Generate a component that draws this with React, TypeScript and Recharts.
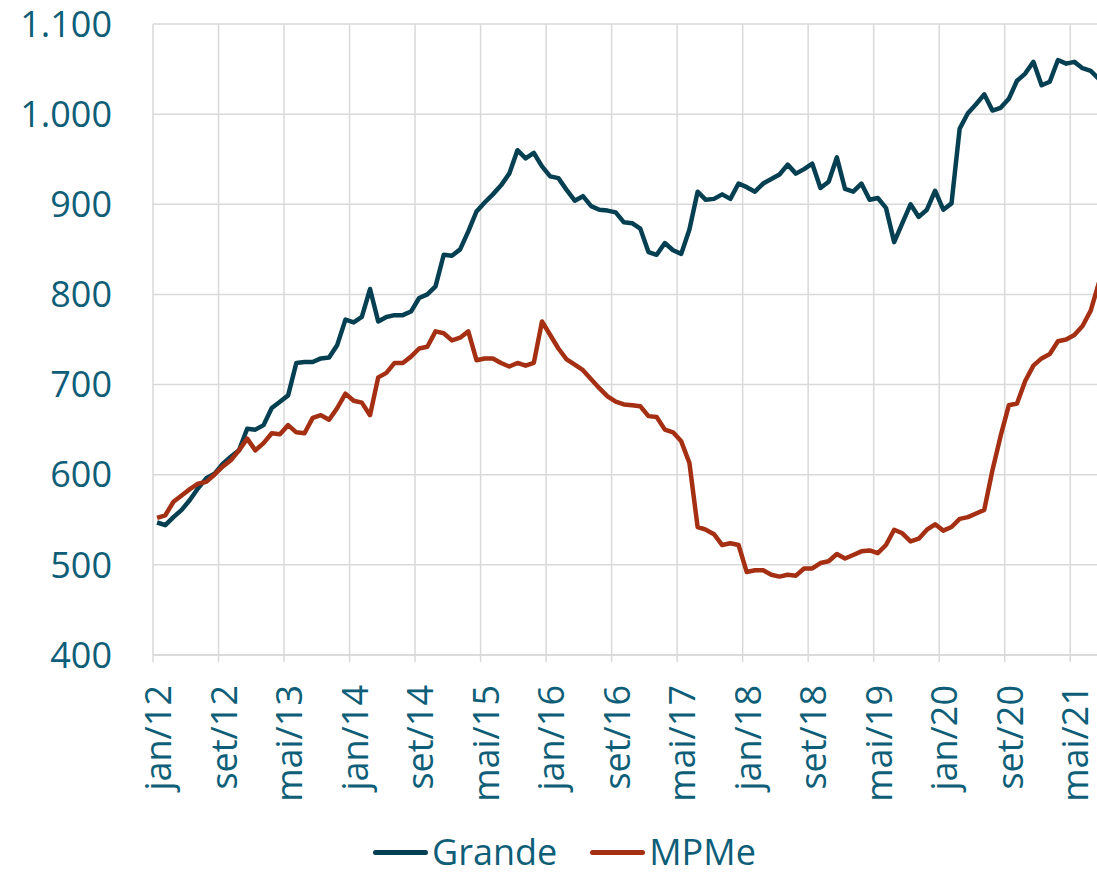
import { CartesianGrid, Legend, Line, LineChart, ReferenceLine, XAxis, YAxis } from "recharts";

const months = ["jan", "fev", "mar", "abr", "mai", "jun", "jul", "ago", "set", "out", "nov", "dez"];

// tick every 8 months, jan/12 .. mai/21
const tickIdx = [0, 8, 16, 24, 32, 40, 48, 56, 64, 72, 80, 88, 96, 104, 112];
const tickLabels = [
  "jan/12", "set/12", "mai/13", "jan/14", "set/14", "mai/15", "jan/16", "set/16",
  "mai/17", "jan/18", "set/18", "mai/19", "jan/20", "set/20", "mai/21",
];

const yTicks = [400, 500, 600, 700, 800, 900, 1000, 1100];

const grande = [
  547, 544, 553, 561, 572, 585, 596, 601, 612, 620, 627, 651, 650, 655, 674, 681,
  688, 724, 725, 725, 729, 730, 744, 772, 769, 775, 806, 770, 775, 777, 777, 781,
  796, 800, 809, 844, 843, 850, 870, 892, 902, 911, 921, 934, 960, 951, 957, 942,
  931, 929, 916, 904, 909, 898, 894, 893, 891, 880, 879, 873, 847, 844, 857, 849,
  845, 872, 914, 905, 906, 911, 906, 923, 919, 914, 923, 928, 933, 944, 934, 939,
  945, 918, 925, 952, 917, 914, 923, 905, 907, 896, 858, 879, 900, 886, 894, 915,
  894, 901, 984, 1001, 1011, 1022, 1004, 1007, 1017, 1037, 1045, 1058, 1032, 1036, 1060, 1056,
  1058, 1051, 1048, 1039,
];

const mpme = [
  552, 555, 570, 577, 584, 590, 592, 600, 609, 616, 627, 640, 627, 635, 646, 645,
  655, 647, 646, 663, 666, 661, 674, 690, 682, 680, 666, 708, 713, 724, 724, 731,
  740, 742, 759, 757, 749, 752, 759, 727, 729, 729, 724, 720, 724, 721, 724, 770,
  755, 740, 728, 722, 716, 706, 696, 687, 681, 678, 677, 676, 665, 664, 650, 647,
  637, 613, 542, 539, 534, 522, 524, 522, 492, 494, 494, 489, 487, 489, 488, 496,
  496, 502, 504, 512, 507, 511, 515, 516, 513, 522, 539, 535, 526, 529, 539, 545,
  538, 542, 551, 553, 557, 561, 605, 643, 677, 679, 704, 721, 729, 734, 748, 750,
  755, 765, 782, 813,
];

const data = grande.map((g, i) => ({
  idx: i,
  month: `${months[i % 12]}/${12 + Math.floor(i / 12)}`,
  grande: g,
  mpme: mpme[i],
}));

const TEXT = "#0e5e78";
const GRID = "#d9d9d9";
const FONT = "'Open Sans', sans-serif";
const W = 1097;
const H = 875;
const PLOT_LEFT = 153;
const RIGHT_BLEED = 6; // plot area runs a little past the picture's right edge
const halfStep = (W - PLOT_LEFT + RIGHT_BLEED) / data.length / 2;

const fmt = (v: number) => (v >= 1000 ? `${Math.floor(v / 1000)}.${String(v % 1000).padStart(3, "0")}` : `${v}`);

function XTick(props: any) {
  const { x, y, payload } = props;
  const label = tickLabels[tickIdx.indexOf(payload.value)];
  return (
    <g>
      <line x1={x - halfStep} x2={x - halfStep} y1={y} y2={y + 7} stroke={GRID} strokeWidth={1.5} />
      <text
        transform={`translate(${x},${y + 30}) rotate(-90)`}
        textAnchor="end"
        dy={14}
        fill={TEXT}
        fontSize={36}
        fontFamily={FONT}
      >
        {label}
      </text>
    </g>
  );
}

function LegendBox() {
  const items = [
    { name: "Grande", color: "#053f52" },
    { name: "MPMe", color: "#a52f12" },
  ];
  return (
    <div style={{ display: "flex", alignItems: "center", paddingLeft: 373, paddingTop: 4, height: 46 }}>
      {items.map((it) => (
        <div key={it.name} style={{ display: "flex", alignItems: "center", marginRight: 33 }}>
          <span style={{ display: "inline-block", width: 55, height: 5, borderRadius: 3, background: it.color, marginRight: 4 }} />
          <span style={{ fontFamily: FONT, fontSize: 36, color: TEXT, lineHeight: "46px", whiteSpace: "nowrap" }}>{it.name}</span>
        </div>
      ))}
    </div>
  );
}

export default function App() {
  return (
    <div style={{ position: "absolute", left: 0, top: 0, width: W, height: H, background: "#fff", overflow: "hidden" }}>
      <LineChart width={W} height={H} data={data} margin={{ top: 24, right: -RIGHT_BLEED, bottom: 0, left: 0 }}>
        <CartesianGrid vertical={false} stroke={GRID} strokeWidth={1.5} />
        {tickIdx.map((t) => (
          <ReferenceLine key={t} x={t - 0.5} stroke={GRID} strokeWidth={1.5} />
        ))}
        <XAxis
          dataKey="idx"
          type="number"
          domain={[-0.5, data.length - 0.5]}
          ticks={tickIdx}
          interval={0}
          height={170}
          tickLine={false}
          tickSize={0}
          tickMargin={0}
          axisLine={{ stroke: GRID, strokeWidth: 1.5 }}
          tick={<XTick />}
        />
        <YAxis
          domain={[400, 1100]}
          ticks={yTicks}
          width={PLOT_LEFT}
          axisLine={false}
          tickLine={false}
          tickSize={0}
          tickMargin={41}
          tickFormatter={fmt}
          tick={{ fill: TEXT, fontSize: 36, fontFamily: FONT }}
        />
        <Legend verticalAlign="bottom" height={50} content={<LegendBox />} />
        <Line
          type="linear"
          dataKey="grande"
          name="Grande"
          stroke="#053f52"
          strokeWidth={4.5}
          dot={false}
          strokeLinejoin="round"
          isAnimationActive={false}
        />
        <Line
          type="linear"
          dataKey="mpme"
          name="MPMe"
          stroke="#a52f12"
          strokeWidth={4.5}
          dot={false}
          strokeLinejoin="round"
          isAnimationActive={false}
        />
      </LineChart>
    </div>
  );
}
